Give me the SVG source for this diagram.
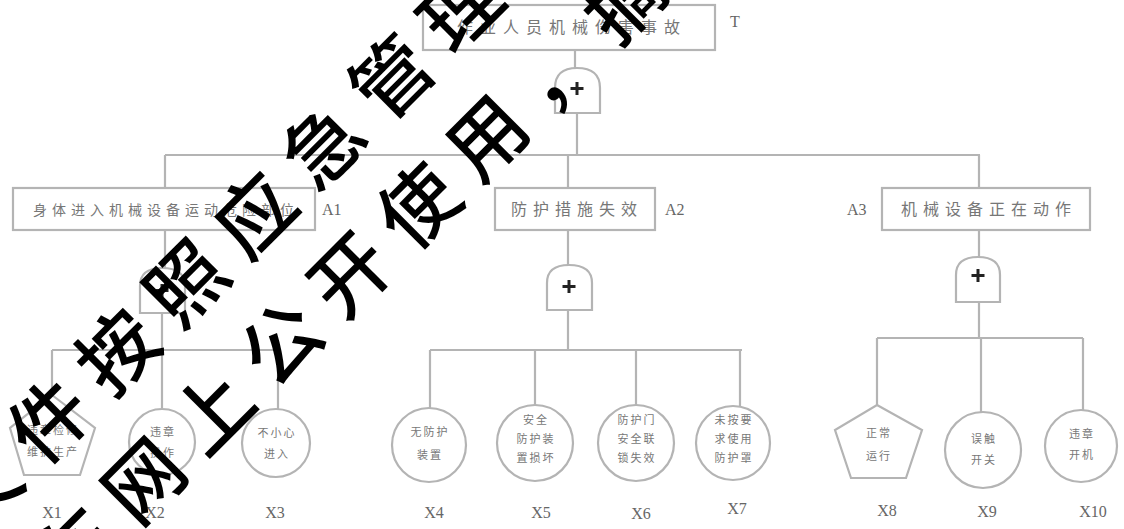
<svg xmlns="http://www.w3.org/2000/svg" width="1124" height="529" viewBox="0 0 1124 529">
<style>
.b{fill:#fff;stroke:#b4b4b4;stroke-width:2.2}
.ln{stroke:#b4b4b4;stroke-width:2.2;fill:none}
.g{fill:#fff;stroke:#b4b4b4;stroke-width:2.2}
.pl{stroke:#222;stroke-width:3}
.t{font-family:"Noto Sans CJK SC","Noto Sans",sans-serif;fill:#777;text-anchor:middle}
.bt{font-size:16px;letter-spacing:7px}
.lt{font-size:11px;letter-spacing:2px}
.lab{font-family:"Liberation Serif",serif;font-size:16px;fill:#666}
.wm{font-family:"Noto Sans CJK SC",sans-serif;font-size:78px;font-weight:500;letter-spacing:19px;fill:#000}
</style>
<rect width="1124" height="529" fill="#fff"/>
<g id="connectors">
<path class="ln" d="M575 50V68M577 113V155M165 155H980M165 155V188M568 155V188M979 155V188"/>
<path class="ln" d="M165 230V268M162 313V350M52 350H278M52 350V395M162 350V408M278 350V410"/>
<path class="ln" d="M568 230V265M568 310V350M430 350H742M430 350V408M535 350V405M636 350V405M740 350V406"/>
<path class="ln" d="M979 230V257M979 302V338M877 338H1083M877 338V405M981 338V412M1083 338V410"/>
</g>
<g id="T"><rect class="b" x="423" y="5" width="292" height="45"/><text class="t bt" x="572" y="33">作业人员机械伤害事故</text><text class="lab" x="730" y="27">T</text></g>
<g id="G0"><path class="g" d="M555 113V88Q555 68 577 68Q600 68 600 88V113Z"/><path class="pl" d="M577 82V95M570.5 88.5H583.5"/></g>
<g id="A1"><rect class="b" x="13" y="188" width="302" height="42"/><text class="t" style="font-size:14px;letter-spacing:5px" x="166" y="215">身体进入机械设备运动危险部位</text><text class="lab" x="322" y="215">A1</text></g>
<g id="A2"><rect class="b" x="495" y="188" width="160" height="42"/><text class="t bt" style="letter-spacing:6px" x="577" y="215">防护措施失效</text><text class="lab" x="665" y="215">A2</text></g>
<g id="A3"><rect class="b" x="882" y="188" width="208" height="42"/><text class="t bt" style="letter-spacing:6px" x="989" y="215">机械设备正在动作</text><text class="lab" x="847" y="215">A3</text></g>
<g id="G1"><path class="g" d="M140 313V286Q140 268 162 268Q185 268 185 286V313Z"/><path class="pl" d="M162 284V297M155.5 290.5H168.5"/></g>
<g id="G2"><path class="g" d="M547 310V283Q547 265 569 265Q592 265 592 283V310Z"/><path class="pl" d="M569 280V293M562.5 286.5H575.5"/></g>
<g id="G3"><path class="g" d="M956 302V275Q956 257 978 257Q1000 257 1000 275V302Z"/><path class="pl" d="M978 269V282M971.5 275.5H984.5"/></g>
<g id="X1"><path class="g" d="M52 395L95 428L80 475L24 475L10 428Z"/><text class="t lt" x="53" y="434">违章检修</text><text class="t lt" x="53" y="456">维护生产</text><text class="lab" x="52" y="518" text-anchor="middle">X1</text></g>
<g id="X2"><circle class="g" cx="162" cy="442" r="33"/><text class="t lt" x="163" y="436">违章</text><text class="t lt" x="163" y="457">操作</text><text class="lab" x="155" y="518" text-anchor="middle">X2</text></g>
<g id="X3"><circle class="g" cx="276" cy="443" r="34"/><text class="t lt" x="277" y="437">不小心</text><text class="t lt" x="277" y="458">进入</text><text class="lab" x="275" y="518" text-anchor="middle">X3</text></g>
<g id="X4"><circle class="g" cx="429" cy="445" r="37"/><text class="t lt" x="430" y="436">无防护</text><text class="t lt" x="430" y="459">装置</text><text class="lab" x="434" y="518" text-anchor="middle">X4</text></g>
<g id="X5"><circle class="g" cx="535" cy="443" r="38"/><text class="t lt" x="536" y="424">安全</text><text class="t lt" x="536" y="443">防护装</text><text class="t lt" x="536" y="462">置损坏</text><text class="lab" x="541" y="518" text-anchor="middle">X5</text></g>
<g id="X6"><circle class="g" cx="636" cy="443" r="38"/><text class="t lt" x="637" y="424">防护门</text><text class="t lt" x="637" y="443">安全联</text><text class="t lt" x="637" y="462">锁失效</text><text class="lab" x="641" y="519" text-anchor="middle">X6</text></g>
<g id="X7"><circle class="g" cx="733" cy="443" r="37"/><text class="t lt" x="734" y="424">未按要</text><text class="t lt" x="734" y="443">求使用</text><text class="t lt" x="734" y="462">防护罩</text><text class="lab" x="737" y="514" text-anchor="middle">X7</text></g>
<g id="X8"><path class="g" d="M877 405L922 430L906 478L851 478L835 430Z"/><text class="t lt" x="879" y="437">正常</text><text class="t lt" x="879" y="460">运行</text><text class="lab" x="887" y="516" text-anchor="middle">X8</text></g>
<g id="X9"><circle class="g" cx="983" cy="450" r="38"/><text class="t lt" x="984" y="443">误触</text><text class="t lt" x="984" y="464">开关</text><text class="lab" x="987" y="517" text-anchor="middle">X9</text></g>
<g id="X10"><circle class="g" cx="1081" cy="446" r="36"/><text class="t lt" x="1082" y="438">违章</text><text class="t lt" x="1082" y="459">开机</text><text class="lab" x="1093" y="517" text-anchor="middle">X10</text></g>
<g id="watermark">
<text class="wm" transform="translate(217,245) rotate(-45)" x="-379" y="0" dominant-baseline="central">文件按照应急管理部</text>
<text class="wm" transform="translate(312,305) rotate(-45)" x="-379" y="0" dominant-baseline="central">在网上公开使用，摘</text>
</g>
</svg>
